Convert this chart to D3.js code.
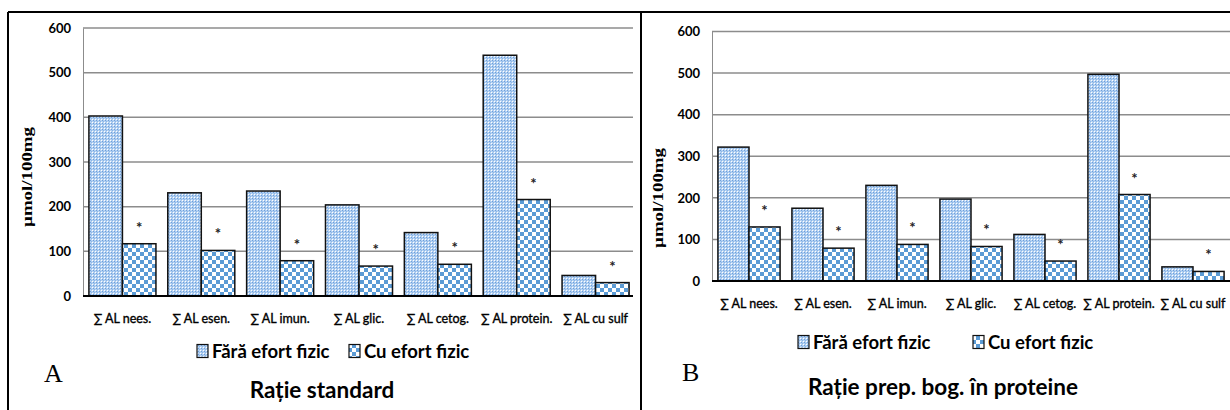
<!DOCTYPE html>
<html>
<head>
<meta charset="utf-8">
<script src="https://cdn.jsdelivr.net/npm/d3@7"></script>
<style>
  html, body { margin: 0; padding: 0; background: #fff; }
  svg { display: block; }
  .tick-label { font-family: Lato, "Open Sans", sans-serif; font-weight: 700; font-size: 13px; fill: #000; }
  .cat-label { font-family: Lato, "Open Sans", sans-serif; font-weight: 400; font-size: 12.5px; fill: #000; stroke: #000; stroke-width: 0.35px; }
  .legend-label { font-family: Lato, "Open Sans", sans-serif; font-weight: 700; font-size: 18.5px; fill: #000; }
  .title { font-family: Lato, "Open Sans", sans-serif; font-weight: 700; font-size: 22.5px; fill: #000; }
  .panel-letter { font-family: "Liberation Serif", "DejaVu Serif", serif; font-size: 26px; fill: #000; }
  .y-title { font-family: "Liberation Serif", "DejaVu Serif", serif; font-weight: 700; font-size: 15px; fill: #000; }
  .star { font-family: Lato, sans-serif; font-weight: 700; font-size: 15px; fill: #222; }
</style>
</head>
<body>
<svg id="chart" width="1230" height="410"></svg>
<script>
// Amino-acid sums (µmol/100mg) per diet and exercise condition
const categories = ["∑ AL nees.", "∑ AL esen.", "∑ AL imun.", "∑ AL glic.", "∑ AL cetog.", "∑ AL protein.", "∑ AL cu sulf"];
const seriesNames = ["Fără efort fizic", "Cu efort fizic"];
const standardFara = [403, 231, 235, 204, 142, 539, 46];
const standardCu = [117, 102, 79, 67, 71, 216, 30];
const proteinFara = [322, 175, 230, 197, 112, 497, 34];
const proteinCu = [130, 79, 88, 83, 48, 208, 23];
const significant = [true, true, true, true, true, true, true];
const yTicks = [0, 100, 200, 300, 400, 500, 600];
const yTitle = "µmol/100mg";
const panelLetters = ["A", "B"];
const panelTitles = ["Rație standard", "Rație prep. bog. în proteine"];

const svg = d3.select("#chart");

// fill patterns: fine dotted light blue and blue/white checkerboard
const defs = svg.append("defs");
const pDots = defs.append("pattern").attr("id", "pat-fara")
  .attr("patternUnits", "userSpaceOnUse").attr("width", 3).attr("height", 3);
pDots.append("rect").attr("width", 3).attr("height", 3).attr("fill", "#b3d0f1");
pDots.append("rect").attr("x", 0).attr("y", 0).attr("width", 1).attr("height", 1).attr("fill", "#6c9fdc");
pDots.append("rect").attr("x", 2).attr("y", 2).attr("width", 1).attr("height", 1).attr("fill", "#ffffff");
pDots.append("rect").attr("x", 1).attr("y", 1).attr("width", 1).attr("height", 1).attr("fill", "#8ab6e8");

const pCheck = defs.append("pattern").attr("id", "pat-cu")
  .attr("patternUnits", "userSpaceOnUse").attr("width", 8).attr("height", 8);
pCheck.append("rect").attr("width", 8).attr("height", 8).attr("fill", "#ffffff");
pCheck.append("rect").attr("x", 0).attr("y", 0).attr("width", 4).attr("height", 4).attr("fill", "#5b9bd5");
pCheck.append("rect").attr("x", 4).attr("y", 4).attr("width", 4).attr("height", 4).attr("fill", "#5b9bd5");

const fills = ["url(#pat-fara)", "url(#pat-cu)"];

// frame lines around the two panels
svg.append("line").attr("x1", 8).attr("x2", 1230).attr("y1", 12).attr("y2", 12)
  .attr("stroke", "#000").attr("stroke-width", 2);
svg.append("line").attr("x1", 8).attr("x2", 8).attr("y1", 12).attr("y2", 410)
  .attr("stroke", "#000").attr("stroke-width", 2);
svg.append("line").attr("x1", 641).attr("x2", 641).attr("y1", 12).attr("y2", 410)
  .attr("stroke", "#000").attr("stroke-width", 2);

const panels = [
  {
    values: [standardFara, standardCu],
    letter: panelLetters[0], title: panelTitles[0],
    x0: 83, x1: 635, gridEnd: 633, yTop: 28, yBottom: 296, pad: 0.15,
    yTitleX: 27, yTitleY: 177,
    catY: 323, legendY: 351,
    legendX: [197, 349], letterX: 44, letterY: 382, titleX: 322, titleY: 398
  },
  {
    values: [proteinFara, proteinCu],
    letter: panelLetters[1], title: panelTitles[1],
    x0: 712, x1: 1230, gridEnd: 1230, yTop: 31.5, yBottom: 281, pad: 0.16,
    yTitleX: 658, yTitleY: 198,
    catY: 308, legendY: 342,
    legendX: [798, 973], letterX: 682, letterY: 381, titleX: 943, titleY: 395
  }
];

panels.forEach(p => {
  const g = svg.append("g");
  const x = d3.scaleBand().domain(categories).range([p.x0, p.x1])
    .paddingInner(p.pad).paddingOuter(p.pad / 2);
  const xs = d3.scaleBand().domain(seriesNames).range([0, x.bandwidth()]);
  const y = d3.scaleLinear().domain([0, 600]).range([p.yBottom, p.yTop]);

  // horizontal gridlines
  g.selectAll("line.grid").data(yTicks.filter(t => t > 0)).join("line")
    .attr("x1", p.x0).attr("x2", p.gridEnd)
    .attr("y1", d => y(d)).attr("y2", d => y(d))
    .attr("stroke", "#8c8c8c").attr("stroke-width", 1.5);

  // y axis
  const yAxis = d3.axisLeft(y).tickValues(yTicks).tickSize(0).tickPadding(12);
  const ya = g.append("g").attr("transform", `translate(${p.x0},0)`).call(yAxis);
  ya.select(".domain").attr("stroke", "#8c8c8c").attr("stroke-width", 1);
  ya.selectAll("text").attr("class", "tick-label").attr("font-family", null).attr("font-size", null).attr("fill", null);

  // bars
  seriesNames.forEach((s, si) => {
    g.selectAll(null).data(categories).join("rect")
      .attr("x", d => x(d) + xs(s))
      .attr("y", (d, i) => y(p.values[si][i]))
      .attr("width", xs.bandwidth())
      .attr("height", (d, i) => y(0) - y(p.values[si][i]))
      .attr("fill", fills[si])
      .attr("stroke", "#111").attr("stroke-width", 1.5);
  });

  // significance markers above exercised group
  g.selectAll(null).data(categories.filter((c, i) => significant[i])).join("text")
    .attr("class", "star").attr("text-anchor", "middle")
    .attr("x", d => x(d) + xs(seriesNames[1]) + xs.bandwidth() / 2)
    .attr("y", d => y(p.values[1][categories.indexOf(d)]) - 11)
    .text("*");

  // baseline
  g.append("line").attr("x1", p.x0).attr("x2", p.gridEnd)
    .attr("y1", y(0)).attr("y2", y(0)).attr("stroke", "#000").attr("stroke-width", 2);

  // category labels
  g.selectAll(null).data(categories).join("text")
    .attr("class", "cat-label").attr("text-anchor", "middle")
    .attr("x", d => x(d) + x.bandwidth() / 2).attr("y", p.catY)
    .text(d => d);

  // y title
  g.append("text").attr("class", "y-title").attr("text-anchor", "middle")
    .attr("transform", `translate(${p.yTitleX + 5},${p.yTitleY}) rotate(-90)`)
    .attr("textLength", 100).attr("lengthAdjust", "spacingAndGlyphs")
    .text(yTitle);

  // legend
  seriesNames.forEach((s, si) => {
    const lx = p.legendX[si];
    g.append("rect").attr("x", lx).attr("y", p.legendY - 6.5)
      .attr("width", 11).attr("height", 13)
      .attr("fill", fills[si]).attr("stroke", "#111").attr("stroke-width", 1.2);
    g.append("text").attr("class", "legend-label")
      .attr("x", lx + 15).attr("y", p.legendY + 6.5).text(s);
  });

  // panel letter and title
  g.append("text").attr("class", "panel-letter").attr("x", p.letterX).attr("y", p.letterY).text(p.letter);
  g.append("text").attr("class", "title").attr("text-anchor", "middle")
    .attr("x", p.titleX).attr("y", p.titleY).text(p.title);
});
</script>
</body>
</html>
